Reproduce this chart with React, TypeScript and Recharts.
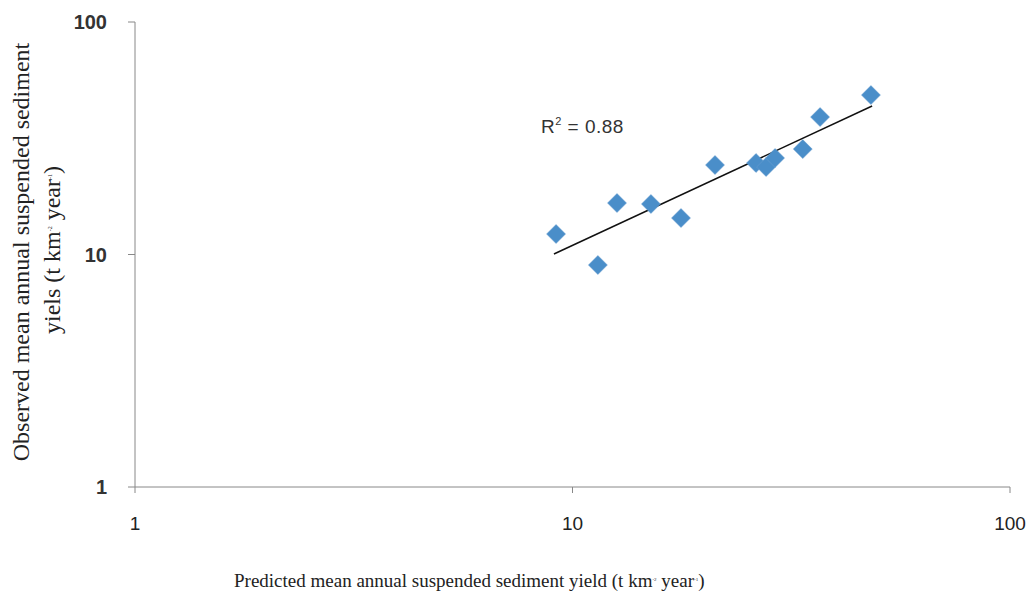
import React from "react";
import {
  ScatterChart,
  Scatter,
  XAxis,
  YAxis,
  ReferenceDot,
} from "recharts";

const predicted = [9.17, 11.43, 12.64, 15.11, 17.7, 21.17, 26.27, 27.7, 29.04, 33.6, 36.8, 48.1];
const observed = [12.25, 9.01, 16.65, 16.49, 14.35, 24.26, 24.75, 23.78, 26.0, 28.4, 39.0, 48.5];
const trendX = [9.07, 48.4];
const trendY = [10.05, 43.5];
const xTicks = [1, 10, 100];
const yTicks = [1, 10, 100];
const r2Label = "R";
const r2Value = " = 0.88";

const points = predicted.map((x, i) => ({ x, y: observed[i] }));
const trend = trendX.map((x, i) => ({ x, y: trendY[i] }));

const Diamond = (props: any) => {
  const { cx, cy } = props;
  if (cx == null || cy == null) return null;
  const r = 9.5;
  return (
    <polygon
      points={`${cx},${cy - r} ${cx + r},${cy} ${cx},${cy + r} ${cx - r},${cy}`}
      fill="#4a8ec9"
      stroke="#6a9fd0"
      strokeWidth={0.5}
    />
  );
};

const XTick = (props: any) => {
  const { x, y, payload } = props;
  return (
    <text x={x} y={y} dy="0.71em" textAnchor="middle" fontFamily="Liberation Sans, Arial, sans-serif" fontSize={19} fill="#222">
      {payload.value}
    </text>
  );
};

const YTick = (props: any) => {
  const { x, y, payload } = props;
  return (
    <text x={x} y={y} dy="0.35em" textAnchor="end" fontFamily="Liberation Sans, Arial, sans-serif" fontSize={20} fontWeight={700} fill="#333">
      {payload.value}
    </text>
  );
};

const R2 = (props: any) => {
  const { viewBox } = props;
  const x = viewBox.x;
  const y = viewBox.y;
  return (
    <text x={x} y={y} dy="0.35em" textAnchor="start" fontFamily="Liberation Sans, Arial, sans-serif" fontSize={19} fill="#333" letterSpacing={0.5}>
      {r2Label}
      <tspan fontSize={11} dy={-8}>2</tspan>
      <tspan dy={8}>{r2Value}</tspan>
    </text>
  );
};

export default function App() {
  return (
    <div style={{ position: "absolute", left: 0, top: 0, width: 1035, height: 596, background: "#fff" }}>
      <ScatterChart width={1035} height={596} margin={{ top: 22, right: 25, bottom: 79, left: 75 }}>
        <XAxis
          dataKey="x"
          type="number"
          scale="log"
          domain={[1, 100]}
          ticks={xTicks}
          allowDataOverflow
          height={30}
          stroke="#888"
          tickLine={{ stroke: "#888" }}
          tickSize={6}
          tickMargin={24}
          tick={<XTick />}
        />
        <YAxis
          dataKey="y"
          type="number"
          scale="log"
          domain={[1, 100]}
          ticks={yTicks}
          allowDataOverflow
          width={60}
          stroke="#888"
          tickLine={{ stroke: "#888" }}
          tickSize={7}
          tickMargin={21}
          tick={<YTick />}
        />
        <Scatter
          data={trend}
          line={{ stroke: "#111", strokeWidth: 1.5 }}
          shape={() => null}
          isAnimationActive={false}
        />
        <Scatter data={points} shape={<Diamond />} isAnimationActive={false} />
        <ReferenceDot x={8.47} y={35.7} r={0} fill="none" stroke="none" label={<R2 />} />
      </ScatterChart>
      <svg width={1035} height={596} style={{ position: "absolute", left: 0, top: 0, pointerEvents: "none" }}>
        <text x={234} y={587} fontFamily="Liberation Serif, Times New Roman, serif" fontSize={19} fill="#222">
          Predicted mean annual suspended sediment yield (t km
          <tspan fontSize={5} dy={-6}>-2</tspan>
          <tspan dy={6}> year</tspan>
          <tspan fontSize={5} dy={-6}>-1</tspan>
          <tspan dy={6}>)</tspan>
        </text>
        <text
          x={0}
          y={0}
          transform="translate(29,252) rotate(-90)"
          textAnchor="middle"
          fontFamily="Liberation Serif, Times New Roman, serif"
          fontSize={24}
          fill="#222"
        >
          Observed mean annual suspended sediment
        </text>
        <text
          x={0}
          y={0}
          transform="translate(60,250) rotate(-90)"
          textAnchor="middle"
          fontFamily="Liberation Serif, Times New Roman, serif"
          fontSize={24}
          fill="#222"
        >
          yiels (t km
          <tspan fontSize={6} dy={-8}>-2</tspan>
          <tspan dy={8}> year</tspan>
          <tspan fontSize={6} dy={-8}>-1</tspan>
          <tspan dy={8}>)</tspan>
        </text>
      </svg>
    </div>
  );
}
